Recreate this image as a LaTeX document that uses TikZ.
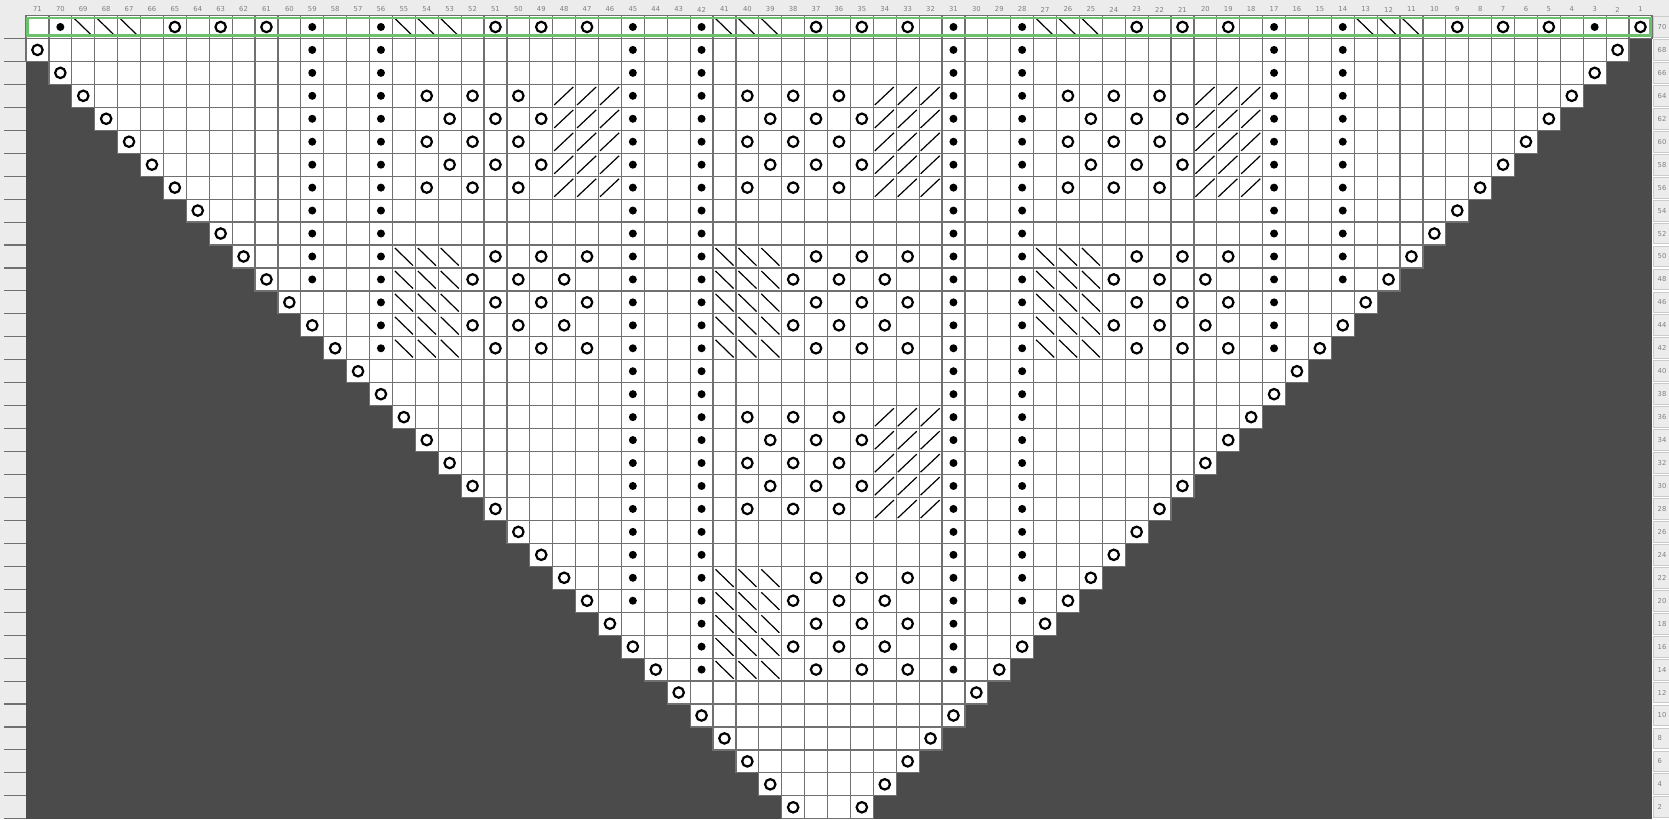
\documentclass[tikz,border=0pt]{standalone}
\usepackage{fontspec}
\setmainfont{DejaVu Sans}
\definecolor{stripbg}{HTML}{ECECEC}
\definecolor{nostitch}{HTML}{4B4B4B}
\definecolor{gridc}{HTML}{707070}
\definecolor{labc}{HTML}{808080}
\definecolor{hl}{HTML}{6CC26C}
\definecolor{boxline}{HTML}{CACACA}
\newcommand\cellpos[2]{%
  \pgfmathsetmacro\px{26+(71-#1)*22.9}%
  \pgfmathsetmacro\py{15.5+(70-#2)/2*22.95}}
\newcommand\sYO[2]{\cellpos{#1}{#2}\draw[yost] (\px+11.45,\py+11.47) circle[radius=5.2pt];}
\newcommand\sDot[2]{\cellpos{#1}{#2}\fill[black] (\px+11.45,\py+11.47) circle[radius=4pt];}
\newcommand\sBs[2]{\cellpos{#1}{#2}\draw[decst] (\px+2.5,\py+3) -- (\px+20.6,\py+20.6);}
\newcommand\sFs[2]{\cellpos{#1}{#2}\draw[decst] (\px+1.5,\py+20.6) -- (\px+20.6,\py+2.6);}
\newcommand\pA[3]{%
  \ifnum#3=1
    \foreach \k in {1,3,5}{\pgfmathtruncatemacro\cc{#1-\k}\sYO{\cc}{#2}}%
  \else
    \foreach \k in {2,4,6}{\pgfmathtruncatemacro\cc{#1-\k}\sYO{\cc}{#2}}%
  \fi
  \foreach \k in {7,8,9}{\pgfmathtruncatemacro\cc{#1-\k}\sFs{\cc}{#2}}}
\newcommand\pB[3]{%
  \foreach \k in {0,1,2}{\pgfmathtruncatemacro\cc{#1-\k}\sBs{\cc}{#2}}%
  \ifnum#3=1
    \foreach \k in {4,6,8}{\pgfmathtruncatemacro\cc{#1-\k}\sYO{\cc}{#2}}%
  \else
    \foreach \k in {3,5,7}{\pgfmathtruncatemacro\cc{#1-\k}\sYO{\cc}{#2}}%
  \fi}
\begin{document}
\begin{tikzpicture}[x=1pt,y=-1pt,
  cellst/.style={fill=white,draw=gridc,line width=1.2pt},
  yost/.style={draw=black,line width=2.2pt},
  decst/.style={draw=black,line width=1.2pt},
  hdr/.style={font=\fontsize{6.8}{8}\selectfont,text=labc,inner sep=0pt}]
\useasboundingbox (0,0) rectangle (1669,819);
\fill[stripbg] (0,0) rectangle (1669,819);
\fill[white] (1651.9,15.5) rectangle (1669,819);
\fill[nostitch] (26,15.5) rectangle (1651.9,819);
% cells and edge yarn-overs
\foreach \r in {70,68,...,2}{
  \ifnum\r=70 \def\L{71}\def\R{1}\else
    \pgfmathtruncatemacro\L{71-(68-\r)/2}\pgfmathtruncatemacro\R{2+(68-\r)/2}\fi
  \foreach \c in {\R,...,\L}{\cellpos{\c}{\r}\draw[cellst] (\px,\py) rectangle ++(22.9,22.95);}
  \ifnum\r<70 \sYO{\L}{\r}\sYO{\R}{\r}\fi
}
% purl columns
\foreach \c/\lo in {59/48,56/42,45/20,42/14,31/14,28/20,17/42,14/48}{
  \foreach \r in {68,66,...,\lo}{\sDot{\c}{\r}}}
% row 70
\foreach \c in {70,59,56,45,42,31,28,17,14,3}{\sDot{\c}{70}}
\sYO{1}{70}
\foreach \c in {69,55,41,27,13}{\pB{\c}{70}{1}}
% lace blocks
\foreach \c in {55,41,27}{
  \foreach \r in {64,60,56}{\pA{\c}{\r}{1}}
  \foreach \r in {62,58}{\pA{\c}{\r}{2}}
  \foreach \r in {50,46,42}{\pB{\c}{\r}{1}}
  \foreach \r in {48,44}{\pB{\c}{\r}{2}}}
\foreach \r in {36,32,28}{\pA{41}{\r}{1}}
\foreach \r in {34,30}{\pA{41}{\r}{2}}
\foreach \r in {22,18,14}{\pB{41}{\r}{1}}
\foreach \r in {20,16}{\pB{41}{\r}{2}}
% highlight of row 70
\draw[hl,line width=2.7pt] (27.3,17.9) rectangle (1650.2,35.8);
% column numbers
\foreach \c in {1,...,71}{
  \pgfmathsetmacro\xc{26+(71-\c)*22.9+11.45}
  \node[hdr] (h\c) at (\xc,9.5) {\c};}
% left strip ticks
\foreach \k in {1,...,35}{
  \pgfmathsetmacro\yy{15.5+\k*22.95}
  \draw[gridc,line width=1.1pt] (4,\yy) -- (26,\yy);}
% right strip row numbers
\foreach \r in {70,68,...,2}{
  \cellpos{1}{\r}
  \draw[fill=stripbg,draw=boxline,line width=0.8pt] (1653.6,\py+1) rectangle (1685,\py+21.8);
  \node[hdr,anchor=west] (r\r) at (1657.5,\py+11.5) {\r};}
\end{tikzpicture}
\end{document}
